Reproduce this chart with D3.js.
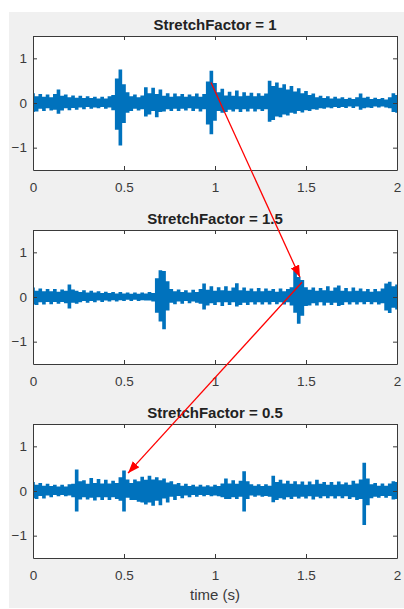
<!DOCTYPE html>
<html>
<head>
<meta charset="utf-8">
<script src="https://cdn.jsdelivr.net/npm/d3@7"></script>
<style>
  body { margin: 0; background: #fff; }
  svg { display: block; font-family: "Liberation Sans", Arial, sans-serif; }
</style>
</head>
<body>
<svg id="svg" width="404" height="609"></svg>
<script>
// panel titles
var titles = ["StretchFactor = 1", "StretchFactor = 1.5", "StretchFactor = 0.5"];
var xTicks = [0, 0.5, 1, 1.5, 2];
var yTicks = [-1, 0, 1];
var sampleStep = 0.02;   // seconds between envelope samples

// waveform envelopes (upper / lower), one value every 0.02 s from 0 to 2 s
var hi1 = [0.22,0.15,0.20,0.14,0.19,0.13,0.20,0.30,0.16,0.19,0.13,0.17,0.12,0.16,0.11,0.15,0.11,0.14,0.10,0.14,
           0.10,0.15,0.18,0.55,0.75,0.42,0.24,0.15,0.19,0.13,0.17,0.35,0.22,0.34,0.20,0.30,0.16,0.22,0.14,0.21,
           0.15,0.20,0.14,0.19,0.15,0.21,0.14,0.20,0.48,0.72,0.45,0.24,0.32,0.17,0.25,0.16,0.28,0.15,0.24,0.16,
           0.23,0.15,0.22,0.16,0.21,0.50,0.38,0.46,0.34,0.42,0.30,0.38,0.26,0.33,0.22,0.27,0.18,0.21,0.13,0.16,
           0.11,0.15,0.10,0.14,0.10,0.13,0.09,0.12,0.09,0.13,0.21,0.12,0.14,0.09,0.12,0.09,0.11,0.08,0.13,0.22,0.18];
var lo1 = [-0.20,-0.19,-0.13,-0.18,-0.12,-0.17,-0.15,-0.24,-0.17,-0.12,-0.16,-0.11,-0.15,-0.10,-0.14,-0.09,-0.13,-0.10,-0.12,-0.09,
           -0.13,-0.10,-0.16,-0.60,-0.95,-0.45,-0.22,-0.18,-0.13,-0.17,-0.14,-0.30,-0.26,-0.18,-0.32,-0.20,-0.19,-0.14,-0.18,-0.13,
           -0.18,-0.13,-0.17,-0.12,-0.18,-0.13,-0.19,-0.14,-0.48,-0.70,-0.40,-0.18,-0.22,-0.20,-0.15,-0.19,-0.14,-0.20,-0.14,-0.19,
           -0.13,-0.19,-0.14,-0.18,-0.14,-0.42,-0.38,-0.30,-0.32,-0.26,-0.28,-0.22,-0.24,-0.18,-0.21,-0.16,-0.18,-0.14,-0.15,-0.12,
           -0.13,-0.10,-0.12,-0.09,-0.11,-0.09,-0.11,-0.08,-0.11,-0.08,-0.15,-0.12,-0.10,-0.11,-0.08,-0.10,-0.08,-0.10,-0.12,-0.20,-0.22];

var hi2 = [0.21,0.14,0.19,0.13,0.18,0.13,0.18,0.12,0.17,0.14,0.28,0.17,0.14,0.11,0.15,0.10,0.14,0.10,0.13,0.09,
           0.12,0.09,0.11,0.08,0.11,0.08,0.10,0.07,0.10,0.07,0.10,0.08,0.11,0.09,0.42,0.60,0.58,0.35,0.18,0.13,
           0.17,0.11,0.15,0.10,0.16,0.11,0.18,0.30,0.16,0.24,0.14,0.22,0.15,0.24,0.14,0.21,0.31,0.15,0.21,0.14,
           0.19,0.13,0.20,0.13,0.19,0.14,0.18,0.12,0.19,0.13,0.18,0.22,0.58,0.45,0.38,0.22,0.16,0.21,0.14,0.20,
           0.15,0.24,0.14,0.21,0.26,0.14,0.20,0.13,0.21,0.14,0.19,0.13,0.18,0.12,0.18,0.13,0.19,0.30,0.34,0.24,0.28];
var lo2 = [-0.17,-0.18,-0.12,-0.17,-0.11,-0.16,-0.11,-0.15,-0.11,-0.14,-0.26,-0.13,-0.15,-0.12,-0.09,-0.13,-0.09,-0.12,-0.08,-0.11,
           -0.08,-0.10,-0.07,-0.10,-0.07,-0.09,-0.06,-0.09,-0.06,-0.09,-0.07,-0.08,-0.08,-0.10,-0.35,-0.55,-0.72,-0.30,-0.13,-0.16,
           -0.10,-0.15,-0.09,-0.14,-0.10,-0.13,-0.15,-0.28,-0.19,-0.14,-0.18,-0.12,-0.20,-0.12,-0.18,-0.12,-0.21,-0.18,-0.13,-0.18,
           -0.12,-0.17,-0.12,-0.17,-0.12,-0.17,-0.11,-0.16,-0.12,-0.17,-0.12,-0.19,-0.35,-0.60,-0.42,-0.20,-0.19,-0.14,-0.19,-0.12,
           -0.19,-0.13,-0.18,-0.13,-0.20,-0.18,-0.12,-0.17,-0.12,-0.17,-0.12,-0.16,-0.11,-0.16,-0.12,-0.17,-0.14,-0.30,-0.36,-0.24,-0.28];

var hi3 = [0.20,0.14,0.18,0.12,0.16,0.11,0.14,0.10,0.14,0.10,0.15,0.16,0.48,0.22,0.24,0.16,0.29,0.18,0.27,0.17,
           0.25,0.17,0.23,0.18,0.31,0.46,0.26,0.18,0.26,0.22,0.32,0.25,0.34,0.26,0.31,0.24,0.28,0.19,0.22,0.15,
           0.18,0.12,0.16,0.11,0.14,0.10,0.14,0.10,0.13,0.10,0.14,0.11,0.17,0.28,0.17,0.24,0.16,0.23,0.44,0.22,
           0.15,0.12,0.15,0.11,0.15,0.12,0.34,0.20,0.25,0.17,0.23,0.16,0.22,0.15,0.21,0.14,0.21,0.15,0.25,0.16,
           0.20,0.14,0.20,0.14,0.21,0.15,0.19,0.14,0.23,0.17,0.26,0.63,0.28,0.15,0.18,0.12,0.17,0.12,0.17,0.22,0.20];
var lo3 = [-0.16,-0.18,-0.11,-0.17,-0.10,-0.14,-0.09,-0.12,-0.09,-0.12,-0.10,-0.14,-0.46,-0.19,-0.14,-0.19,-0.15,-0.21,-0.14,-0.20,
           -0.14,-0.20,-0.14,-0.18,-0.22,-0.46,-0.15,-0.20,-0.20,-0.24,-0.26,-0.30,-0.26,-0.33,-0.22,-0.32,-0.17,-0.26,-0.13,-0.20,
           -0.11,-0.16,-0.10,-0.14,-0.09,-0.13,-0.09,-0.12,-0.09,-0.12,-0.10,-0.12,-0.14,-0.18,-0.18,-0.14,-0.18,-0.13,-0.46,-0.18,
           -0.10,-0.13,-0.10,-0.13,-0.11,-0.13,-0.25,-0.20,-0.16,-0.19,-0.14,-0.18,-0.13,-0.17,-0.13,-0.17,-0.12,-0.19,-0.13,-0.16,
           -0.12,-0.16,-0.12,-0.17,-0.12,-0.16,-0.12,-0.18,-0.14,-0.20,-0.18,-0.76,-0.32,-0.16,-0.13,-0.15,-0.11,-0.15,-0.11,-0.19,-0.18];

// red arrows: [panel, time, value] of start and tip
var arrowFrom = [[0, 0.978, 0.46], [1, 1.478, 0.33]];
var arrowTo   = [[1, 1.467, 0.44], [2, 0.522, 0.40]];

window.onload = function() {

    var svg = d3.select("svg");
    var panelTop = [36, 230, 424];
    var panelHeight = 134;
    var left = 33, right = 397;
    var blue = "#0072bd", axisCol = "#3a3a3a", textCol = "#3a3a3a";

    var highs = [hi1, hi2, hi3], lows = [lo1, lo2, lo3];

    svg.append("rect").attr("x", 9).attr("y", 12)
        .attr("width", 395).attr("height", 596).attr("fill", "#f0f0f0");

    var defs = svg.append("defs");
    defs.append("marker").attr("id", "head")
        .attr("viewBox", "0 0 10 10").attr("refX", 10).attr("refY", 5)
        .attr("markerWidth", 12).attr("markerHeight", 9)
        .attr("preserveAspectRatio", "none")
        .attr("markerUnits", "userSpaceOnUse")
        .attr("orient", "auto")
        .append("path").attr("d", "M0,0 L10,5 L0,10 z").attr("fill", "#ff0000");

    var x = d3.scaleLinear().domain([0, 2]).range([left, right]);
    var ys = [];

    panelTop.forEach(function(top, p) {
        var y = d3.scaleLinear().domain([-1.5, 1.5]).range([top + panelHeight, top]);
        ys.push(y);
        var g = svg.append("g");

        g.append("rect").attr("x", left).attr("y", top)
            .attr("width", right - left).attr("height", panelHeight).attr("fill", "#fff");

        var hi = highs[p], lo = lows[p];
        var area = d3.area()
            .curve(d3.curveStep)
            .x(function(d, i) { return x(i * sampleStep); })
            .y0(function(d, i) { return y(lo[i]); })
            .y1(function(d, i) { return y(hi[i]); });
        g.append("path").datum(hi).attr("d", area).attr("fill", blue);

        var bottomAxis = d3.axisBottom(x).tickValues(xTicks).tickSizeInner(-4).tickSizeOuter(0)
            .tickPadding(12).tickFormat(d3.format("~g"));
        var topAxis = d3.axisTop(x).tickValues(xTicks).tickSizeInner(-4).tickSizeOuter(0).tickFormat("");
        var leftAxis = d3.axisLeft(y).tickValues(yTicks).tickSizeInner(-4).tickSizeOuter(0)
            .tickPadding(6).tickFormat(d3.format("~g"));
        var rightAxis = d3.axisRight(y).tickValues(yTicks).tickSizeInner(-4).tickSizeOuter(0).tickFormat("");

        var axes = [
            [bottomAxis, "translate(0," + (top + panelHeight) + ")"],
            [topAxis, "translate(0," + top + ")"],
            [leftAxis, "translate(" + left + ",0)"],
            [rightAxis, "translate(" + right + ",0)"]
        ];
        axes.forEach(function(a) {
            var ag = g.append("g").attr("transform", a[1]).call(a[0]);
            ag.select(".domain").attr("stroke", axisCol);
            ag.selectAll(".tick line").attr("stroke", axisCol);
            ag.selectAll("text").attr("fill", textCol).attr("font-size", 13.5)
                .attr("font-family", "Liberation Sans, Arial, sans-serif");
        });

        g.append("text").attr("x", (left + right) / 2).attr("y", top - 6)
            .attr("text-anchor", "middle").attr("font-weight", "bold")
            .attr("font-size", 15).attr("fill", "#222").text(titles[p]);
    });

    svg.append("text").attr("x", (left + right) / 2).attr("y", 600)
        .attr("text-anchor", "middle").attr("font-size", 15).attr("fill", textCol)
        .text("time (s)");

    arrowFrom.forEach(function(a, i) {
        var b = arrowTo[i];
        svg.append("line")
            .attr("x1", x(a[1])).attr("y1", ys[a[0]](a[2]))
            .attr("x2", x(b[1])).attr("y2", ys[b[0]](b[2]))
            .attr("stroke", "#ff0000").attr("stroke-width", 1.3)
            .attr("marker-end", "url(#head)");
    });
}
</script>
</body>
</html>
